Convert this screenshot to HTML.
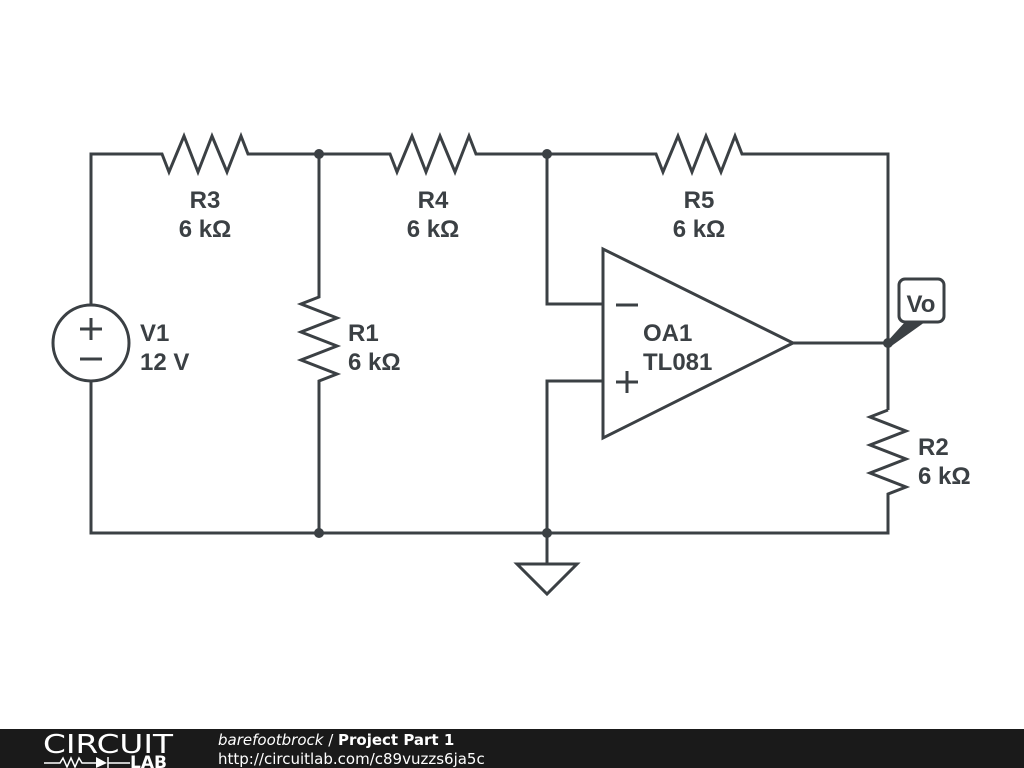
<!DOCTYPE html>
<html><head><meta charset="utf-8"><style>
body{margin:0;width:1024px;height:768px;background:#fff;overflow:hidden;position:relative}
svg{position:absolute;left:0;top:0}
.t{font-family:"Liberation Sans","DejaVu Sans",sans-serif;font-weight:bold;font-size:24px;fill:#3b4044}
</style></head><body>
<svg width="1024" height="768" viewBox="0 0 1024 768">
<g fill="none" stroke="#3b4044" stroke-width="3" stroke-linejoin="miter">
<polyline points="91,305 91,154 162,154 169,172 184,136 198,172 212,136 227,172 241,136 248,154 390,154 397,172 412,136 426,172 440,136 455,172 469,136 476,154 656,154 663,172 678,136 692,172 706,136 721,172 735,136 742,154 888,154 888,410"/>
<polyline points="888,410 870,417 906,431 870,445 906,459 870,473 906,487 888,494 888,533 91,533 91,381"/>
<polyline points="319,154 319,297 301,304 337,318 301,332 337,346 301,360 337,374 319,381 319,533"/>
<circle cx="91" cy="343" r="38"/>
<line x1="80" y1="329" x2="102" y2="329"/><line x1="91" y1="318" x2="91" y2="340"/>
<line x1="80" y1="359" x2="102" y2="359"/>
<polygon points="603,249 603,438 793,343"/>
<polyline points="547,154 547,304 603,304"/>
<polyline points="603,381 547,381 547,563"/>
<polygon points="517,564 577,564 547,594"/>
<line x1="793" y1="343" x2="888" y2="343"/>
<line x1="616" y1="305" x2="638" y2="305"/>
<line x1="616" y1="382" x2="638" y2="382"/><line x1="627" y1="371" x2="627" y2="393"/>
<rect x="899" y="279" width="45" height="43" rx="6"/>
</g>
<polygon points="886,343 905,322 925,322 890,347" fill="#3b4044"/>
<g fill="#3b4044">
<circle cx="319" cy="154" r="5"/><circle cx="547" cy="154" r="5"/>
<circle cx="319" cy="533" r="5"/><circle cx="547" cy="533" r="5"/>
<circle cx="888" cy="343" r="5"/>
</g>
<g class="t">
<text x="205" y="208" text-anchor="middle">R3</text><text x="205" y="237" text-anchor="middle">6 kΩ</text>
<text x="433" y="208" text-anchor="middle">R4</text><text x="433" y="237" text-anchor="middle">6 kΩ</text>
<text x="699" y="208" text-anchor="middle">R5</text><text x="699" y="237" text-anchor="middle">6 kΩ</text>
<text x="140" y="341">V1</text><text x="140" y="370">12 V</text>
<text x="348" y="341">R1</text><text x="348" y="370">6 kΩ</text>
<text x="643" y="341">OA1</text><text x="643" y="370">TL081</text>
<text x="918" y="455">R2</text><text x="918" y="484">6 kΩ</text>
<text x="921" y="312" text-anchor="middle">Vo</text>
</g>
<rect x="0" y="729" width="1024" height="39" fill="#1a1a1a"/>
<text x="43" y="753" font-family="DejaVu Sans,sans-serif" font-size="26" fill="#fff" textLength="130" lengthAdjust="spacingAndGlyphs">CIRCUIT</text>
<g stroke="#fff" stroke-width="1.5" fill="none"><polyline points="44,763 60,763 63,758 67,767 71,758 75,767 79,758 82,763 96,763"/><line x1="108" y1="757" x2="108" y2="768"/><line x1="108" y1="763" x2="130" y2="763"/></g>
<polygon points="96,757 96,768 107,763" fill="#fff"/>
<text x="130" y="768" font-family="DejaVu Sans,sans-serif" font-weight="bold" font-size="17" fill="#fff">LAB</text>
<text x="218" y="745" font-family="DejaVu Sans,sans-serif" font-size="15" fill="#fff"><tspan font-style="italic">barefootbrock</tspan> / <tspan font-weight="bold">Project Part 1</tspan></text>
<text x="218" y="764" font-family="DejaVu Sans,sans-serif" font-size="15" fill="#fff">http://circuitlab.com/c89vuzzs6ja5c</text>
</svg>
</body></html>
